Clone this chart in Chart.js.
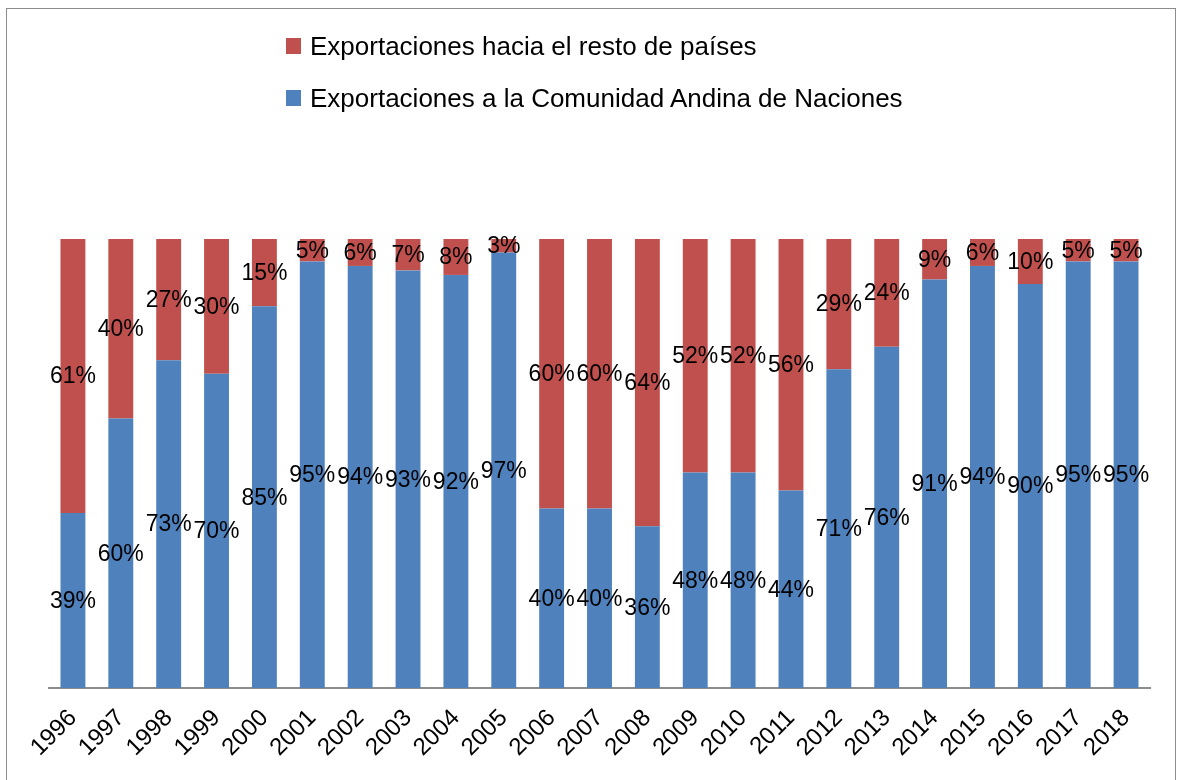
<!DOCTYPE html>
<html>
<head>
<meta charset="utf-8">
<script src="https://cdn.jsdelivr.net/npm/chart.js@4.4.1/dist/chart.umd.min.js"></script>
<style>
  html, body { margin: 0; padding: 0; background: #fff; overflow: hidden; }
  body { width: 1180px; height: 780px; position: relative; font-family: 'Liberation Sans', Arial, sans-serif; }
  #frame { position: absolute; left: 6px; top: 8px; width: 1170px; height: 800px; border: 1px solid #8c8c8c; box-sizing: border-box; }
  #wrap { position: absolute; left: 0; top: 0; width: 1180px; height: 780px; }
  #legend { position: absolute; left: 286px; top: 29px; }
  .leg-item { display: flex; align-items: center; height: 34px; margin-bottom: 18px; font-size: 26px; color: #000; white-space: nowrap; }
  .leg-box { width: 15px; height: 16px; margin-right: 9px; }
</style>
</head>
<body>
<div id="frame"></div>
<div id="wrap"><canvas id="chart" width="1180" height="780"></canvas></div>
<div id="legend"></div>
<script>
// ===== Data =====
const years = ['1996', '1997', '1998', '1999', '2000', '2001', '2002', '2003', '2004', '2005', '2006', '2007',
               '2008', '2009', '2010', '2011', '2012', '2013', '2014', '2015', '2016', '2017', '2018'];
const andina = [39, 60, 73, 70, 85, 95, 94, 93, 92, 97, 40, 40, 36, 48, 48, 44, 71, 76, 91, 94, 90, 95, 95];
const resto  = [61, 40, 27, 30, 15, 5, 6, 7, 8, 3, 60, 60, 64, 52, 52, 56, 29, 24, 9, 6, 10, 5, 5];

const labelAndina = 'Exportaciones a la Comunidad Andina de Naciones';
const labelResto = 'Exportaciones hacia el resto de países';
const colorBlue = '#4F81BD';
const colorRed = '#C0504D';
const chartFont = "'Liberation Sans', Arial, sans-serif";

// ===== Segment value labels =====
const segmentLabels = {
  id: 'segmentLabels',
  afterDatasetsDraw(chart) {
    const ctx = chart.ctx;
    ctx.save();
    ctx.font = '23px ' + chartFont;
    ctx.fillStyle = '#000';
    ctx.textAlign = 'center';
    ctx.textBaseline = 'middle';
    chart.data.datasets.forEach((ds, i) => {
      chart.getDatasetMeta(i).data.forEach((bar, j) => {
        const mid = (bar.y + bar.base) / 2;
        ctx.fillText(ds.data[j] + '%', bar.x, mid + 1);
      });
    });
    ctx.restore();
  }
};

const chart = new Chart(document.getElementById('chart'), {
  type: 'bar',
  data: {
    labels: years,
    datasets: [
      { label: labelAndina, data: andina, backgroundColor: colorBlue },
      { label: labelResto, data: resto, backgroundColor: colorRed }
    ]
  },
  options: {
    responsive: false,
    animation: false,
    barPercentage: 0.52,
    categoryPercentage: 1,
    layout: { padding: { left: 49, right: 30, top: 239, bottom: 0 } },
    plugins: { legend: { display: false }, tooltip: { enabled: false } },
    scales: {
      x: {
        stacked: true,
        grid: { display: false },
        border: { display: true, color: '#8c8c8c', width: 2 },
        ticks: { color: '#000', font: { family: chartFont, size: 24 }, minRotation: 45, maxRotation: 45, padding: 8 },
        afterFit: (s) => { s.height = 92; }
      },
      y: { stacked: true, min: 0, max: 100, display: false }
    }
  },
  plugins: [segmentLabels]
});

// ===== HTML legend (red entry first) =====
document.getElementById('legend').innerHTML = chart.data.datasets.slice().reverse().map(d => `
  <div class="leg-item"><span class="leg-box" style="background:${d.backgroundColor}"></span>${d.label}</div>
`).join('');
</script>
</body>
</html>
